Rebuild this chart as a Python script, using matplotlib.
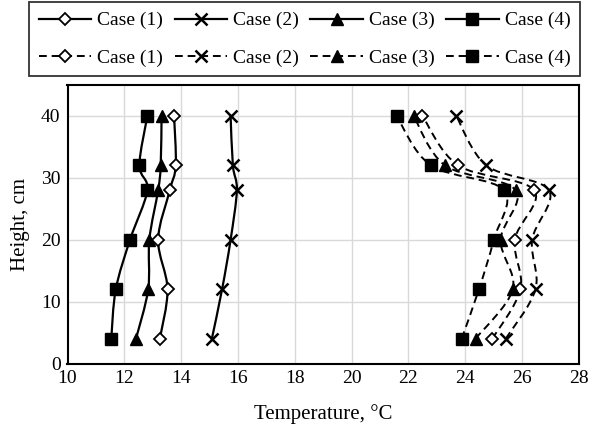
import numpy as np
import matplotlib
matplotlib.use("Agg")
import matplotlib.pyplot as plt
from matplotlib.path import Path
from matplotlib.patches import PathPatch
from matplotlib.lines import Line2D

plt.rcParams['font.family'] = ['Liberation Serif', 'DejaVu Serif']

heights = [4, 12, 20, 28, 32, 40]

solid_case1 = [13.25, 13.52, 13.19, 13.60, 13.81, 13.75]
solid_case2 = [15.08, 15.44, 15.74, 15.96, 15.82, 15.74]
solid_case3 = [12.41, 12.84, 12.88, 13.19, 13.28, 13.31]
solid_case4 = [11.54, 11.70, 12.20, 12.81, 12.53, 12.81]

dashed_case1 = [24.95, 25.94, 25.74, 26.42, 23.75, 22.49]
dashed_case2 = [25.42, 26.47, 26.35, 26.94, 24.74, 23.68]
dashed_case3 = [24.36, 25.67, 25.24, 25.77, 23.29, 22.18]
dashed_case4 = [23.87, 24.48, 25.00, 25.36, 22.79, 21.58]

labels = ["Case (1)", "Case (2)", "Case (3)", "Case (4)"]
xticks = [10, 12, 14, 16, 18, 20, 22, 24, 26, 28]
yticks = [0, 10, 20, 30, 40]

markers = [
    dict(marker='D', markersize=6, markerfacecolor='white', markeredgecolor='black', markeredgewidth=1.3),
    dict(marker='x', markersize=8, markeredgecolor='black', markeredgewidth=1.8),
    dict(marker='^', markersize=8.5, markerfacecolor='black', markeredgecolor='black'),
    dict(marker='s', markersize=9, markerfacecolor='black', markeredgecolor='black'),
]

fig = plt.figure(figsize=(5.9, 4.3), dpi=100)
ax = fig.add_axes([67.5/590, 1-363.5/430, (579-67.5)/590, (363.5-85)/430])


def smooth_path(xs, ys):
    P = np.column_stack([xs, ys]).astype(float)
    n = len(P)
    verts = [P[0]]
    codes = [Path.MOVETO]
    for i in range(n - 1):
        p0 = P[i - 1] if i > 0 else P[i]
        p1 = P[i]
        p2 = P[i + 1]
        p3 = P[i + 2] if i + 2 < n else P[i + 1]
        c1 = p1 + (p2 - p0) / 6.0
        c2 = p2 - (p3 - p1) / 6.0
        verts += [c1, c2, p2]
        codes += [Path.CURVE4] * 3
    return Path(verts, codes)


solid = [solid_case1, solid_case2, solid_case3, solid_case4]
dashed = [dashed_case1, dashed_case2, dashed_case3, dashed_case4]

for vals in solid:
    ax.add_patch(PathPatch(smooth_path(vals, heights), facecolor='none',
                           edgecolor='black', lw=1.6, linestyle='-', zorder=3))
for vals in dashed:
    ax.add_patch(PathPatch(smooth_path(vals, heights), facecolor='none',
                           edgecolor='black', lw=1.4, linestyle=(0, (4, 2.5)), zorder=3))

for vals, mk in zip(solid, markers):
    ax.plot(vals, heights, linestyle='none', zorder=4, **mk)
for vals, mk in zip(dashed, markers):
    ax.plot(vals, heights, linestyle='none', zorder=4, **mk)

ax.set_xlim(10, 28)
ax.set_ylim(0, 45)
ax.set_xticks(xticks)
ax.set_yticks(yticks)
ax.grid(True, color='#d9d9d9', lw=1.0)
ax.set_axisbelow(True)
ax.tick_params(length=0, labelsize=14, pad=5)
for s in ax.spines.values():
    s.set_linewidth(1.5)
    s.set_color('black')
ax.set_xlabel("Temperature, °C", fontsize=15, labelpad=12)
ax.set_ylabel("Height, cm", fontsize=15, labelpad=8)

handles = []
leg_labels = []
for i, mk in enumerate(markers):
    handles.append(Line2D([], [], color='black', lw=1.6, linestyle='-', **mk))
    leg_labels.append(labels[i])
    handles.append(Line2D([], [], color='black', lw=1.4, linestyle=(0, (4, 2.5)), **mk))
    leg_labels.append(labels[i])

leg = fig.legend(handles, leg_labels, ncol=4, loc='upper center',
                 bbox_to_anchor=(304.5/590, 1-2/430), fontsize=14,
                 frameon=True, fancybox=False, edgecolor='black',
                 handlelength=2.7, handletextpad=0.3, columnspacing=0.6,
                 labelspacing=1.0, borderpad=0.5, borderaxespad=0)
leg.get_frame().set_linewidth(1.3)

fig.savefig("out.png", dpi=100)
